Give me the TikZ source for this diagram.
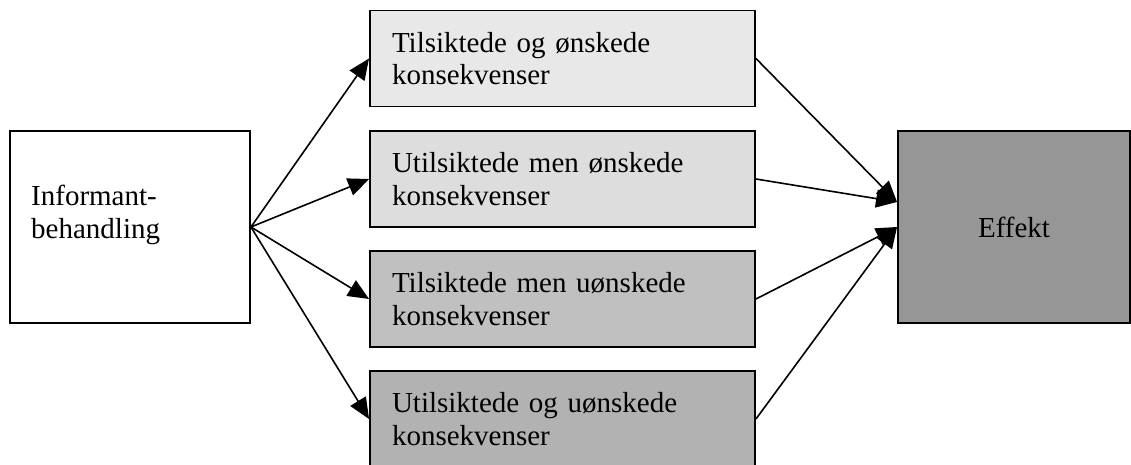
\documentclass[tikz,border=0pt]{standalone}
\usepackage{fontspec}
\setmainfont{Liberation Serif}
\usetikzlibrary{arrows.meta,calc}
\begin{document}
\begin{tikzpicture}[x=1pt,y=-1pt,
  boxframe/.style={draw=black, line width=1.9pt, rectangle, inner sep=0pt},
  conbox/.style={boxframe, minimum width=385pt, minimum height=96pt,
    text width=341pt, inner xsep=22pt, align=left, text depth=32.5pt,
    font=\fontsize{29}{32.5}\selectfont},
  conn/.style={line width=1.6pt, -{Triangle[length=21pt,width=18pt]}},
  ]
  \useasboundingbox (0,0) rectangle (1131,464);
  \definecolor{cA}{HTML}{E8E8E8}
  \definecolor{cB}{HTML}{DDDDDD}
  \definecolor{cC}{HTML}{C0C0C0}
  \definecolor{cD}{HTML}{B2B2B2}
  \definecolor{cE}{HTML}{969696}

  \node[boxframe, fill=white, minimum width=240pt, minimum height=192pt] (inf) at (130,227) {};
  \node[anchor=base west, inner sep=0pt, align=left, font=\fontsize{29}{32.5}\selectfont] (inftext) at (31,238) {Informant-\\behandling};

  \node[conbox, fill=cA] (b1) at (562.5,58.5) {Tilsiktede og ønskede\\konsekvenser};
  \node[conbox, fill=cB] (b2) at (562.5,179) {Utilsiktede men ønskede\\konsekvenser};
  \node[conbox, fill=cC] (b3) at (562.5,299) {Tilsiktede men uønskede\\konsekvenser};
  \node[conbox, fill=cD] (b4) at (562.5,419) {Utilsiktede og uønskede\\konsekvenser};

  \node[boxframe, fill=cE, minimum width=232pt, minimum height=192pt,
    font=\fontsize{29}{32.5}\selectfont] (eff) at (1014,227) {Effekt};

  \coordinate (eup) at ($(eff.west)+(0,-25)$);

  \draw[conn] (inf.east) -- (b1.west);
  \draw[conn] (inf.east) -- (b2.west);
  \draw[conn] (inf.east) -- (b3.west);
  \draw[conn] (inf.east) -- (b4.west);

  \draw[conn] (b1.east) -- (eup);
  \draw[conn] (b2.east) -- (eup);
  \draw[conn] (b3.east) -- (eff.west);
  \draw[conn] (b4.east) -- (eff.west);
\end{tikzpicture}
\end{document}
